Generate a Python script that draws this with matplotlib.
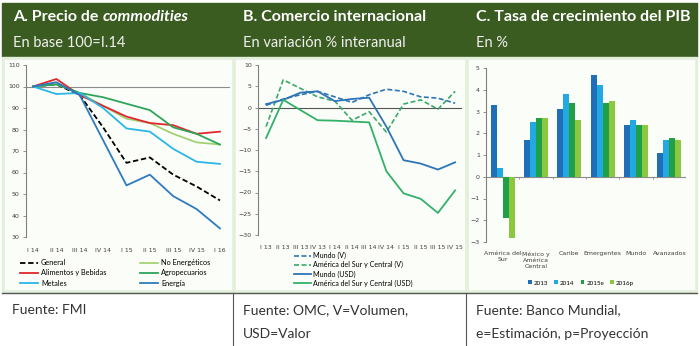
import matplotlib
matplotlib.use("Agg")
import matplotlib.pyplot as plt
from matplotlib.patches import Rectangle
from matplotlib.lines import Line2D
import numpy as np

W, H = 700, 346

# ---- panel A data: commodity price index, base 100 = I.14
quarters_a = ["I 14", "II 14", "III 14", "IV 14", "I 15", "II 15", "III 15", "IV 15", "I 16"]
general = [100, 101, 96, 81, 64.5, 67, 59, 53.5, 47]
alimentos = [100, 103.5, 96, 91, 86, 83, 82, 78, 79]
no_energeticos = [100, 101, 97, 91, 85, 83, 78, 74, 73]
agropecuarios = [100, 101, 97, 95, 92, 89, 81, 78, 73]
metales = [100, 96.5, 97, 90, 80.5, 79, 71, 65, 64]
energia = [100, 102, 96, 75, 54, 59, 49, 43, 34]

# ---- panel B data: trade, % yoy
quarters_b = ["I 13", "II 13", "III 13", "IV 13", "I 14", "II 14", "III 14", "IV 14",
              "I 15", "II 15", "III 15", "IV 15"]
mundo_v = [0.5, 2.0, 3.0, 3.8, 2.5, 1.2, 3.0, 4.3, 3.8, 2.5, 2.2, 1.0]
america_v = [-4.5, 6.5, 4.5, 2.5, 1.5, -3.0, -1.0, -5.8, 0.8, 1.8, -0.4, 3.8]
mundo_usd = [0.8, 1.8, 3.5, 3.8, 1.5, 2.0, 2.3, -4.5, -12.4, -13.2, -14.6, -12.9]
america_usd = [-7.2, 1.8, -0.6, -3.0, -3.1, -3.3, -3.5, -15.0, -20.2, -21.5, -24.8, -19.5]

# ---- panel C data: GDP growth, %
regiones = ["América del\nSur", "México y\nAmérica\nCentral", "Caribe", "Emergentes", "Mundo", "Avanzados"]
years = ["2013", "2014", "2015e", "2016p"]
pib = {
    "2013": [3.3, 1.7, 3.1, 4.7, 2.4, 1.1],
    "2014": [0.4, 2.5, 3.8, 4.2, 2.6, 1.7],
    "2015e": [-1.9, 2.7, 3.4, 3.4, 2.4, 1.8],
    "2016p": [-2.8, 2.7, 2.6, 3.5, 2.4, 1.7],
}

DARK = "#3b5c20"
LIGHT = "#e3efda"
TXT = "#404040"
FONT = "Lato"


def box(x0, y0, x1, y1):
    # pixel box (top-left origin) -> figure fraction rect
    return [x0 / W, 1 - y1 / H, (x1 - x0) / W, (y1 - y0) / H]


def rect(x0, y0, x1, y1, **kw):
    b = box(x0, y0, x1, y1)
    fig.patches.append(Rectangle((b[0], b[1]), b[2], b[3], transform=fig.transFigure, zorder=-5, **kw))


def hline(x0, x1, y, **kw):
    fig.add_artist(Line2D([x0 / W, x1 / W], [1 - y / H, 1 - y / H], transform=fig.transFigure, **kw))


def vline(x, y0, y1, **kw):
    fig.add_artist(Line2D([x / W, x / W], [1 - y0 / H, 1 - y1 / H], transform=fig.transFigure, **kw))


def style_ax(ax, xpad):
    for s in ["top", "right", "bottom"]:
        ax.spines[s].set_visible(False)
    ax.spines["left"].set_color("#7f7f7f")
    ax.spines["left"].set_linewidth(0.8)
    ax.tick_params(axis="y", length=2.5, width=0.6, color="#7f7f7f", labelsize=4.5, labelcolor=TXT, pad=2)
    ax.tick_params(axis="x", length=0, labelsize=4.5, labelcolor=TXT, pad=xpad)
    ax.set_facecolor("none")


fig = plt.figure(figsize=(7, 3.46), dpi=100)
fig.patch.set_facecolor("white")

# header band and light green panel background
rect(2, 3, 697, 57, color=DARK)
rect(2, 57, 697, 292, color=LIGHT)
for x0, x1 in [(5, 231), (236, 464), (469, 694)]:
    rect(x0, 60, x1, 289, color="#fbfdf9")
hline(2, 697, 293, color="#555555", lw=1.0)
vline(233, 293, 346, color="#555555", lw=0.8)
vline(466, 293, 346, color="#555555", lw=0.8)

heads = [(13, "A. Precio de ", "commodities", "En base 100=I.14"),
         (243, "B. Comercio internacional", "", "En variación % interanual"),
         (476, "C. Tasa de crecimiento del PIB", "", "En %")]
for x, t1, t2, sub in heads:
    t = fig.text(x / W, 1 - 17 / H, t1, color="white", fontsize=11.5, fontweight="bold",
                 family=FONT, va="center")
    if t2:
        fig.canvas.draw()
        bb = t.get_window_extent()
        fig.text(bb.x1 / W, 1 - 17 / H, t2, color="white", fontsize=11.5, fontweight="bold",
                 style="italic", family=FONT, va="center")
    fig.text(x / W, 1 - 43 / H, sub, color="#f0f0f0", fontsize=10.5, family=FONT, va="center")

foots = [(12, ["Fuente: FMI"]),
         (243, ["Fuente: OMC, V=Volumen,", "USD=Valor"]),
         (476, ["Fuente: Banco Mundial,", "e=Estimación, p=Proyección"])]
for x, lines in foots:
    for i, s in enumerate(lines):
        fig.text(x / W, 1 - (310 + 24 * i) / H, s, color="#333333", fontsize=10, family=FONT, va="center")

# ---- panel A
axA = fig.add_axes(box(26, 65, 230, 237))
xa = np.arange(len(quarters_a))
axA.axhline(100, color="#8c8c8c", lw=0.8, zorder=1)
l_gen = axA.plot(xa, general, color="black", ls=(0, (3, 1.5)), lw=1.3, label="General")[0]
l_noe = axA.plot(xa, no_energeticos, color="#9bd06a", lw=1.2, label="No Energéticos")[0]
l_ali = axA.plot(xa, alimentos, color="#e0262c", lw=1.3, label="Alimentos y Bebidas")[0]
l_agr = axA.plot(xa, agropecuarios, color="#2ea45a", lw=1.3, label="Agropecuarios")[0]
l_met = axA.plot(xa, metales, color="#2ab7e6", lw=1.3, label="Metales")[0]
l_ene = axA.plot(xa, energia, color="#2e7bbd", lw=1.3, label="Energía")[0]
axA.set_ylim(30, 110)
axA.set_yticks(np.arange(30, 111, 10))
axA.set_xlim(-0.3, 8.43)
axA.set_xticks(xa)
axA.set_xticklabels(quarters_a)
style_ax(axA, 8)
fig.legend(handles=[l_gen, l_ali, l_met, l_noe, l_agr, l_ene], ncol=2, loc="center left",
           bbox_to_anchor=(16 / W, 1 - 273 / H), frameon=False, handlelength=2.5,
           columnspacing=4.5, labelspacing=0.45, handletextpad=0.4, borderpad=0,
           prop={"family": FONT, "size": 5.3})

# ---- panel B
axB = fig.add_axes(box(258, 65, 462, 235))
xb = np.arange(len(quarters_b))
axB.axhline(0, color="#555555", lw=0.8, zorder=1)
lb = [
    axB.plot(xb, mundo_v, color="#2e75b6", ls=(0, (3, 1.5)), lw=1.2, label="Mundo (V)")[0],
    axB.plot(xb, america_v, color="#3aa86c", ls=(0, (3, 1.5)), lw=1.2, label="América del Sur y Central (V)")[0],
    axB.plot(xb, mundo_usd, color="#2e75b6", lw=1.3, label="Mundo (USD)")[0],
    axB.plot(xb, america_usd, color="#33b06a", lw=1.3, label="América del Sur y Central (USD)")[0],
]
axB.set_ylim(-30, 10)
axB.set_yticks(np.arange(-30, 11, 5))
axB.set_xlim(-0.47, 11.4)
axB.set_xticks(xb)
axB.set_xticklabels(quarters_b)
style_ax(axB, 7)
fig.legend(handles=lb, ncol=1, loc="center left", bbox_to_anchor=(290 / W, 1 - 269.5 / H),
           frameon=False, handlelength=2.4, labelspacing=0.3, handletextpad=0.3, borderpad=0,
           prop={"family": FONT, "size": 5.1})

# ---- panel C
axC = fig.add_axes(box(486, 68, 686, 242))
xc = np.arange(len(regiones))
colsC = ["#1f6fb8", "#23a9e1", "#1fa048", "#8cc83f"]
bw = 0.18
hb = []
for i, y in enumerate(years):
    hb.append(axC.bar(xc + (i - 1.5) * bw, pib[y], bw, color=colsC[i], label=y, zorder=2))
axC.axhline(0, color="#8c8c8c", lw=0.8, zorder=1)
# category separator ticks on the zero line
axC.vlines(xc + 0.5, -0.09, 0, color="#8c8c8c", lw=0.6, zorder=1)
axC.set_ylim(-3, 5)
axC.set_yticks(np.arange(-3, 6, 1))
axC.set_xlim(-0.5, 5.5)
axC.set_xticks(xc)
axC.set_xticklabels(regiones, va="top", linespacing=1.3)
style_ax(axC, 6.5)
fig.legend(handles=hb, ncol=4, loc="center", bbox_to_anchor=(581 / W, 1 - 283 / H),
           frameon=False, handlelength=0.6, handleheight=0.6, handletextpad=0.3, columnspacing=1.0,
           borderpad=0, prop={"family": FONT, "size": 4.5})

fig.savefig("out.png", dpi=100)
